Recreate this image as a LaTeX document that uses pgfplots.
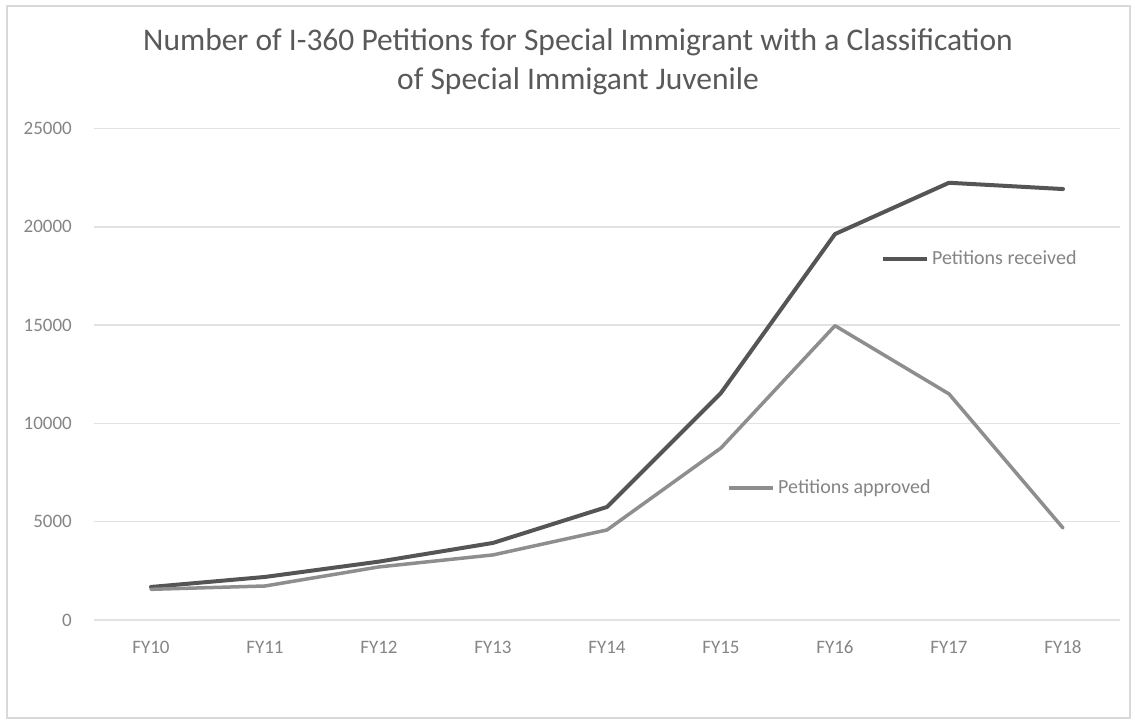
\documentclass[border=0pt]{standalone}
\usepackage{fontspec}
\setmainfont{Carlito}
\usepackage{pgfplots}
\pgfplotsset{compat=1.18}
\definecolor{titlegray}{HTML}{595959}
\definecolor{tickgray}{HTML}{858585}
\definecolor{gridgray}{HTML}{E2E2E2}
\definecolor{framegray}{HTML}{D9D9D9}
\definecolor{recvgray}{HTML}{555555}
\definecolor{apprgray}{HTML}{8E8E8E}
\begin{document}
\begin{tikzpicture}
\useasboundingbox (0pt,0pt) rectangle (1135pt,724pt);
\fill[white] (0pt,0pt) rectangle (1135pt,724pt);
\draw[framegray, line width=1.5pt] (7pt,6pt) rectangle (1130pt,718pt);
% title, two lines
\node[font=\fontsize{31.5}{39}\selectfont, text=titlegray, anchor=base, inner sep=0pt] at (578pt,673pt)
  {Number of I-360 Petitions for Special Immigrant with a Classification};
\node[font=\fontsize{31.5}{39}\selectfont, text=titlegray, anchor=base, inner sep=0pt] at (578pt,634pt)
  {of Special Immigant Juvenile};
\begin{axis}[
    at={(94pt,104pt)}, anchor=south west,
    scale only axis,
    width=1026pt, height=491.5pt,
    xmin=-0.5, xmax=8.5,
    ymin=0, ymax=25000,
    xtick={0,...,8},
    xticklabels={FY10,FY11,FY12,FY13,FY14,FY15,FY16,FY17,FY18},
    ytick={0,5000,...,25000},
    ymajorgrids,
    grid style={gridgray, line width=1.5pt},
    axis line style={draw=none},
    major tick length=0pt,
    scaled y ticks=false,
    /pgf/number format/assume math mode=true,
    /pgf/number format/1000 sep={},
    tick label style={font=\fontsize{19}{22}\selectfont, text=tickgray},
    yticklabel style={anchor=east, inner sep=0pt, xshift=-22pt},
    xticklabel style={anchor=base, inner sep=0pt, yshift=-33pt},
    clip=false,
]
% Petitions received
\addplot[recvgray, line width=4pt, line join=round, line cap=round] coordinates {
    (0,1680) (1,2190) (2,2970) (3,3920) (4,5750) (5,11550) (6,19630) (7,22240) (8,21920)};
% Petitions approved
\addplot[apprgray, line width=3.5pt, line join=round, line cap=round] coordinates {
    (0,1560) (1,1730) (2,2700) (3,3310) (4,4580) (5,8750) (6,14970) (7,11500) (8,4680)};
% inline labels
\addplot[recvgray, line width=4pt] coordinates {(6.42,18360) (6.81,18360)};
\addplot[apprgray, line width=3.5pt] coordinates {(5.07,6710) (5.46,6710)};
\node[font=\fontsize{20}{24}\selectfont, text=tickgray, anchor=base west, inner sep=0pt, yshift=-5pt]
  at (axis cs:6.85,18360) {Petitions received};
\node[font=\fontsize{20}{24}\selectfont, text=tickgray, anchor=base west, inner sep=0pt, yshift=-5pt]
  at (axis cs:5.50,6710) {Petitions approved};
\end{axis}
\end{tikzpicture}
\end{document}
